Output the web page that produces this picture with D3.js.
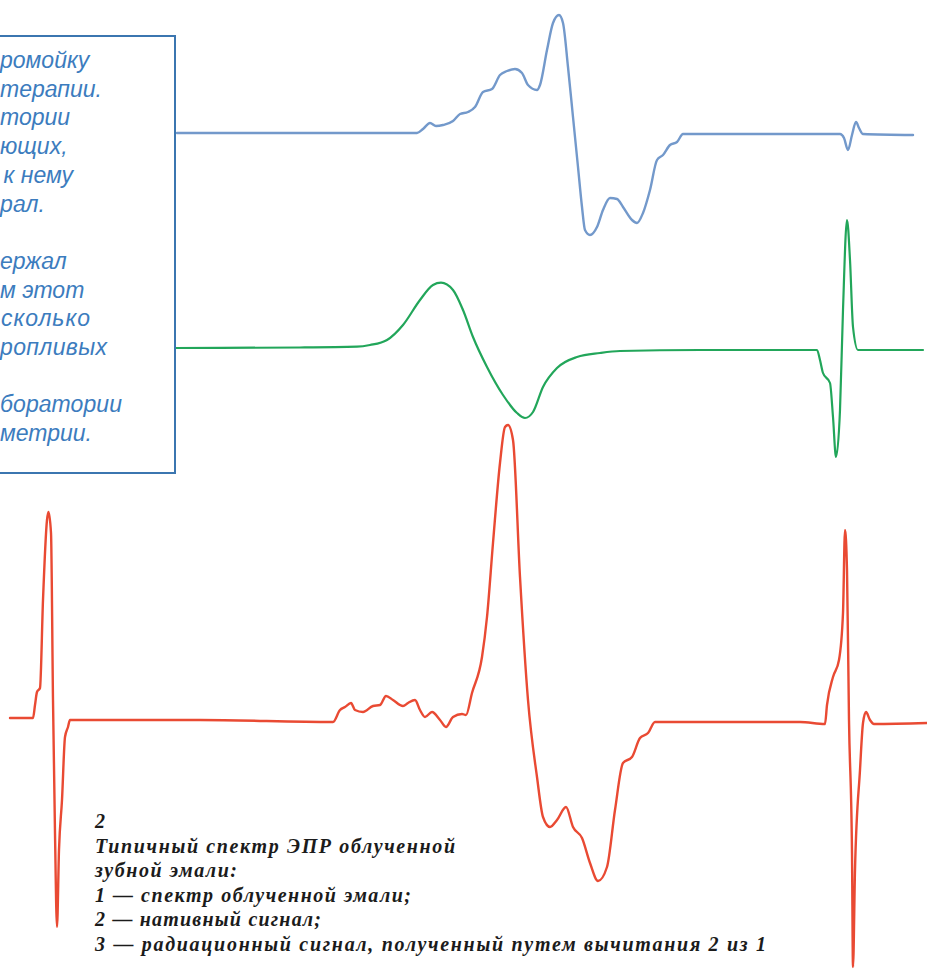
<!DOCTYPE html>
<html>
<head>
<meta charset="utf-8">
<script src="https://cdn.jsdelivr.net/npm/d3@7"></script>
<style>
  html, body { margin: 0; padding: 0; background: #ffffff; }
  svg { display: block; }
</style>
</head>
<body>
<svg id="chart" width="927" height="970"></svg>
<script>
// ---------- DATA (field in arbitrary units, amplitude relative to baseline) ----------
// Curve 1: spectrum of irradiated enamel (blue)
const spectrum1Field = [17.7,30,41.7,42.3,43,43.6,44.3,45.3,46,46.8,47.5,48.3,49.2,50,50.7,51.5,52.2,52.8,53.7,54,54.7,55.3,55.9,56.3,56.8,57.3,57.8,58.2,58.5,59,59.7,60.3,61,61.7,62.3,63.2,63.7,64.3,65,65.7,66.3,67,67.7,68.3,72,84,84.4,84.8,85.2,85.6,85.9,86.3,91.3];
const spectrum1Amp   = [0.5,0.5,0.5,4.5,10.5,7.5,8.5,12.5,19.5,21.5,26.5,41.5,44.5,58.5,62.5,64.5,60.5,48.5,43.5,48.5,83.5,110.5,118.5,110.5,66.5,16.5,-33.5,-73.5,-96.5,-101.5,-93.5,-76.5,-64.5,-65.5,-73.5,-86.5,-89.5,-79.5,-56.5,-26.5,-21.5,-11.5,-8.5,-0.5,-0.5,-0.5,-4.5,-16.5,-1.5,11.5,5.5,-0.5,-1.5];

// Curve 2: native signal (green)
const nativeField = [17.5,30,35.7,37,38.7,40.3,42,43.3,44.1,45.3,46.3,47.3,48.7,50.3,51.7,52.5,53.3,54.3,55.7,57.7,60,62,70,81.7,82,82.3,83,83.3,83.6,84,84.3,84.7,85,85.3,85.8,92.3];
const nativeAmp   = [2,2.5,3.3,5,10,25,50,65,67.3,60,40,13,-17,-45,-63,-68,-62,-37,-18,-7,-3,-1,0,0,-10,-23,-33,-67,-107,-60,40,130,90,23,0,0];

// Curve 3: radiation signal = 1 minus 2 (red)
const radiationField = [1,3.3,3.5,3.7,4,4.3,4.7,4.85,5.1,5.3,5.5,5.7,5.9,6.2,6.5,6.8,7,20,33.3,34,34.5,35.1,35.5,36.3,37.3,38,38.6,39.3,40.3,40.8,41.5,42,42.5,43.2,44,44.6,45.3,46.2,46.6,47.2,48.2,48.7,49.3,50,50.5,50.8,51.3,52,52.8,53.7,54.3,55,55.7,56.6,57.3,58.2,59,59.8,60.7,61.5,62.3,63.2,64,64.8,65.5,70,80,82.5,82.7,83.3,83.9,84.3,84.5,84.7,84.9,85.2,85.3,85.5,86,86.3,86.6,87,87.4,92.7];
const radiationAmp   = [2,2,15,28,32,120,200,208,187,20,-113,-207,-130,-80,-17,-7,0,0,-2,10,13,17,10,8,14,15,24,20,14,17,20,10,3,8,0,-7,3,6,5,27,63,103,177,257,293,295,280,143,20,-57,-97,-107,-100,-87,-107,-118,-143,-161,-147,-90,-43,-37,-18,-13,-2,-2,-2,-4,15,43,60,107,190,150,0,-133,-247,-150,-50,-3,8,0,-4,-3];

// Text (visible fragments of the column cut by the page edge)
const boxLines  = ["ромойку","терапии.","тории","ющих,","к нему","рал.","","ержал","м этот","сколько","ропливых","","боратории","метрии."];
const boxStarts = [0,4,10,0,13,0,0,0,0,1,0,0,0,0];
const boxEnds   = [82,97,65,67,73,45,0,62,77,90,107,0,122,84];
const captionLines = ["2","Типичный спектр ЭПР облученной","зубной эмали:","1 — спектр облученной эмали;","2 — нативный сигнал;","3 — радиационный сигнал, полученный путем вычитания 2 из 1"];
const captionWidths = [0,360,142,316,226,671];

// ---------- DRAWING ----------
const svg = d3.select("#chart");
const W = 927, H = 970;

const x = d3.scaleLinear().domain([0, 92.7]).range([0, W]);

const yBlue  = d3.scaleLinear().domain([-120, 130]).range([253.5, 3.5]);
const yGreen = d3.scaleLinear().domain([-120, 130]).range([470, 220]);
const yRed   = d3.scaleLinear().domain([-250, 300]).range([970, 420]);

function drawCurve(fields, amps, yScale, color, width) {
  const pts = fields.map((f, i) => [f, amps[i]]);
  const line = d3.line()
    .x(d => x(d[0]))
    .y(d => yScale(d[1]))
    .curve(d3.curveMonotoneX);
  svg.append("path")
    .datum(pts)
    .attr("d", line)
    .attr("fill", "none")
    .attr("stroke", color)
    .attr("stroke-width", width)
    .attr("stroke-linejoin", "round")
    .attr("stroke-linecap", "round");
}

drawCurve(spectrum1Field, spectrum1Amp, yBlue, "#7399cb", 2.4);
drawCurve(nativeField, nativeAmp, yGreen, "#22a65a", 2.2);
drawCurve(radiationField, radiationAmp, yRed, "#e94a33", 2.4);

// Text box on the left (partly off-page)
svg.append("rect")
  .attr("x", -10).attr("y", 36)
  .attr("width", 185).attr("height", 437)
  .attr("fill", "none")
  .attr("stroke", "#3b76b0")
  .attr("stroke-width", 2);

const boxText = svg.append("g")
  .attr("font-family", "'Liberation Sans', Arial, sans-serif")
  .attr("font-style", "italic")
  .attr("font-size", 23)
  .attr("fill", "#3c7cbe");
boxLines.forEach((t, i) => {
  if (!t) return;
  const el = boxText.append("text")
    .attr("y", 68 + i * 28.7)
    .text(t);
  const L = el.node().getComputedTextLength();
  const T = boxEnds[i] - boxStarts[i];
  if (L <= T) {
    el.attr("x", boxStarts[i]).attr("textLength", T).attr("lengthAdjust", "spacing");
  } else {
    el.attr("x", Math.max(0, boxEnds[i] - L));
  }
});

// Caption
const cap = svg.append("g")
  .attr("font-family", "'Liberation Serif', 'Times New Roman', serif")
  .attr("font-style", "italic")
  .attr("font-weight", "bold")
  .attr("font-size", 20)
  .attr("fill", "#1b1b1b");
captionLines.forEach((t, i) => {
  const tx = cap.append("text")
    .attr("x", 95)
    .attr("y", 828 + i * 24.6)
    .text(t);
  if (captionWidths[i] > 0) {
    tx.attr("textLength", captionWidths[i]).attr("lengthAdjust", "spacing");
  }
});
</script>
</body>
</html>
